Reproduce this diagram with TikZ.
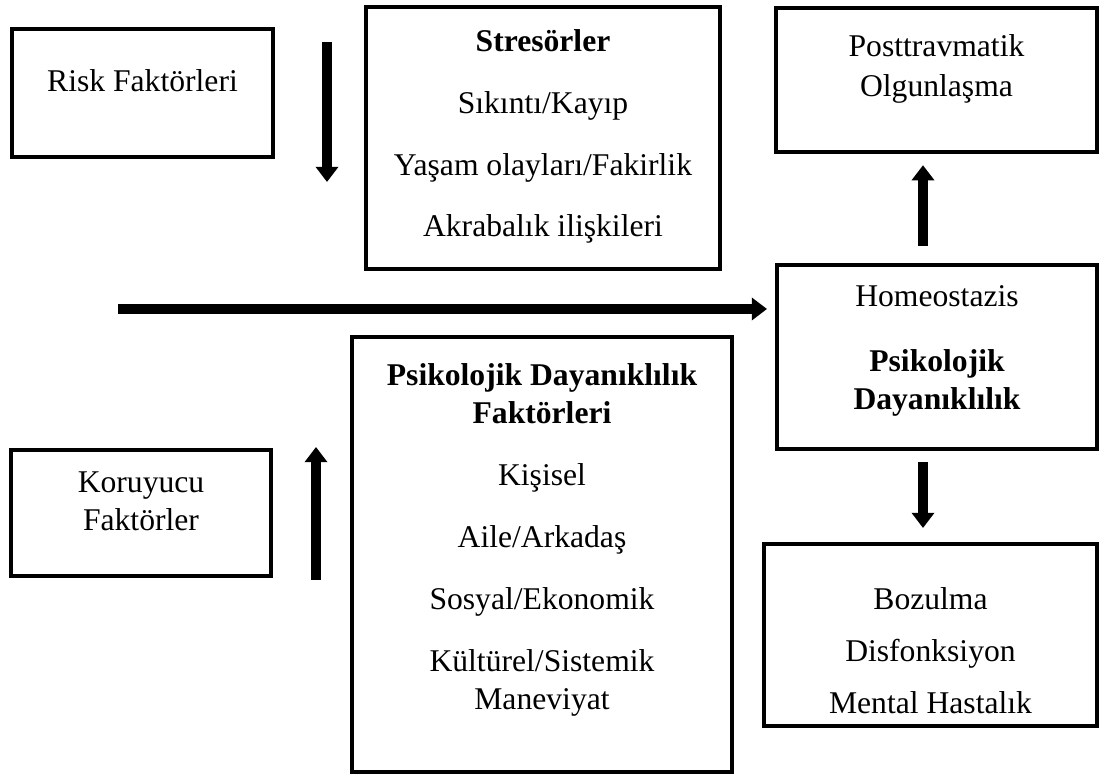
\documentclass[tikz,border=0pt]{standalone}
\usepackage{fontspec}
\setmainfont{Liberation Serif}
\usetikzlibrary{arrows.meta}

\begin{document}
\begin{tikzpicture}
[box/.style={draw, line width=1mm, inner sep=0pt},
 txt/.style={align=center, inner sep=0pt, font=\fontsize{22.5pt}{27pt}\selectfont},
 bigarrow/.style={line width=2.5mm, -{Triangle[width=5.5mm, length=3.8mm]}}]

  \useasboundingbox (0,0) rectangle (27.5,19.375);

  % boxes
  \node[box, minimum width=6.525cm, minimum height=3.2cm] (risk) at (3.5625,17.05) {};
  \node[box, minimum width=8.85cm, minimum height=6.55cm] (stres) at (13.575,15.925) {};
  \node[box, minimum width=8.025cm, minimum height=3.6cm] (post) at (23.4125,17.375) {};
  \node[box, minimum width=8cm, minimum height=4.6cm] (homeo) at (23.425,10.45) {};
  \node[box, minimum width=6.5cm, minimum height=3.15cm] (koru) at (3.525,6.55) {};
  \node[box, minimum width=9.5cm, minimum height=10.875cm] (psikfak) at (13.55,5.5125) {};
  \node[box, minimum width=8.325cm, minimum height=4.55cm] (bozul) at (23.2625,3.5) {};

  % texts
  \node[txt] (riskT) at (3.5625,17.35) {Risk Faktörleri};
  \node[txt] (stresT) at (13.575,15.9625) {\textbf{Stresörler}\\[17pt]
    Sıkıntı/Kayıp\\[17pt] Yaşam olayları/Fakirlik\\[17pt] Akrabalık ilişkileri};
  \node[txt] (postT) at (23.4125,17.65) {Posttravmatik\\[2pt] Olgunlaşma};
  \node[txt] (homeoT) at (23.425,10.6) {Homeostazis\\[19pt]
    \textbf{Psikolojik}\\ \textbf{Dayanıklılık}};
  \node[txt] (koruT) at (3.525,6.85) {Koruyucu\\ Faktörler};
  \node[txt] (psikfakT) at (13.55,5.875) {\textbf{Psikolojik Dayanıklılık}\\
    \textbf{Faktörleri}\\[17pt] Kişisel\\[17pt] Aile/Arkadaş\\[17pt]
    Sosyal/Ekonomik\\[17pt] Kültürel/Sistemik\\ Maneviyat};
  \node[txt] (bozulT) at (23.2625,3.1125) {Bozulma\\[10pt] Disfonksiyon\\[10pt] Mental Hastalık};

  % arrows
  \coordinate (downA) at (8.175,18.325);
  \coordinate (downB) at (8.175,14.825);
  \coordinate (upA) at (7.9,4.875);
  \coordinate (upB) at (7.9,8.2);
  \coordinate (flow) at (2.95,11.65);
  \coordinate (colR) at (23.075,0);

  \draw[bigarrow] (downA) -- (downB);
  \draw[bigarrow] (upA) -- (upB);
  \draw[bigarrow, shorten >=0.2cm] (flow) -- (homeo.west |- flow);
  \draw[bigarrow, shorten <=0.42cm, shorten >=0.28cm] (homeo.north -| colR) -- (post.south -| colR);
  \draw[bigarrow, shorten <=0.28cm, shorten >=0.35cm] (homeo.south -| colR) -- (bozul.north -| colR);
\end{tikzpicture}
\end{document}
